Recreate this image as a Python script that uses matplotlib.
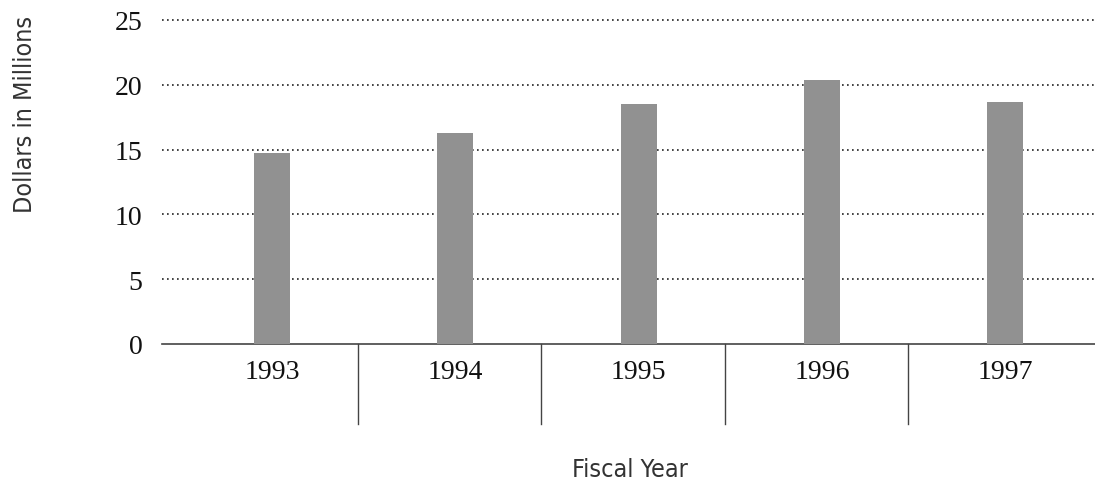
import matplotlib
matplotlib.use('Agg')
import matplotlib.pyplot as plt

# ── Data ─────────────────────────────────────────────
years = ['1993', '1994', '1995', '1996', '1997']
dollars = [14.7, 16.3, 18.5, 20.4, 18.7]
yticks = [0, 5, 10, 15, 20, 25]

BAR = '#919191'
INK = '#222222'
serif = 'Liberation Serif'

fig = plt.figure(figsize=(10.95, 4.89), dpi=100)
ax = fig.add_axes([0.148, 0.2945, 0.852, 0.676])

x = list(range(len(years)))
ax.bar(x, dollars, width=0.197, color=BAR, zorder=3)

ax.set_xlim(-0.6, 4.49)
ax.set_ylim(0, 25.5)
ax.set_yticks(yticks)
ax.set_yticklabels([str(t) for t in yticks], fontsize=20, family=serif)
ax.set_xticks(x)
ax.set_xticklabels(years, fontsize=20, family=serif)
ax.tick_params(length=0, colors='#111111')
ax.tick_params(axis='y', pad=14)
ax.tick_params(axis='x', pad=11)

for t in yticks[1:]:
    ax.axhline(t, color=INK, lw=1.2, dashes=(1, 2), zorder=1)

for s in ['top', 'right', 'left']:
    ax.spines[s].set_visible(False)
ax.spines['bottom'].set_color('#444444')
ax.spines['bottom'].set_linewidth(1.2)

# category separators below the axis
for i in range(len(years) - 1):
    ax.plot([i + 0.47, i + 0.47], [0, -6.2], color='#444444', lw=1.0, clip_on=False)

lab = dict(fontsize=18, family='DejaVu Sans', fontstretch='condensed',
           fontweight='light', color='#333333', ha='center', va='center')
fig.text(0.575, 1 - 470 / 489, 'Fiscal Year', **lab)
fig.text(0.023, 1 - 114 / 489, 'Dollars in Millions', rotation=90, **lab)

fig.savefig('out.png', dpi=100)
